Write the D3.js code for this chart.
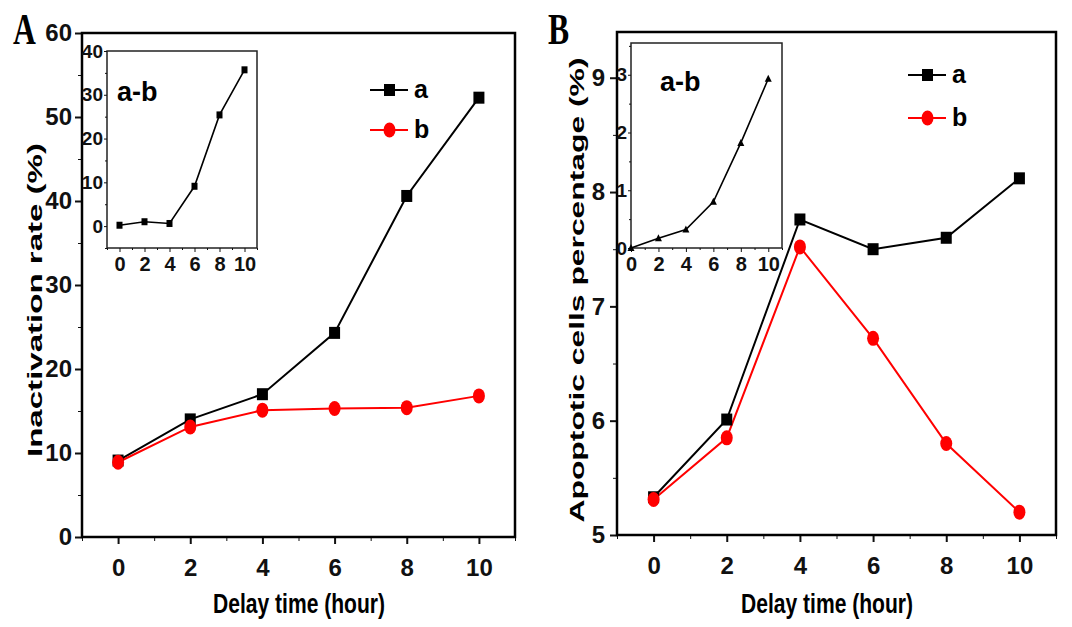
<!DOCTYPE html>
<html>
<head>
<meta charset="utf-8">
<script src="https://cdn.jsdelivr.net/npm/d3@7/dist/d3.min.js"></script>
<style>
  body { margin: 0; background: #fff; }
  svg { display: block; }
  .narrow { font-family: "Liberation Sans Narrow", "Arial Narrow", "Liberation Sans", sans-serif; font-weight: bold; }
  .tick text { font-family: "Liberation Sans Narrow", "Arial Narrow", "Liberation Sans", sans-serif; font-weight: bold; fill: #111; }
  .tick line { stroke: #111; }
</style>
</head>
<body>
<svg id="chart" width="1072" height="627"></svg>
<script>
// delay times (hour)
const hours = [0, 2, 4, 6, 8, 10];
const xTicks = [0, 2, 4, 6, 8, 10];
const xMinor = [-1, 1, 3, 5, 7, 9, 11];

// panel A: inactivation rate (%)
const inactA = [9.1, 14.0, 17.0, 24.3, 40.6, 52.3];
const inactB = [8.9, 13.1, 15.1, 15.3, 15.4, 16.8];
const inactDiff = [0.2, 1.0, 0.6, 9.1, 25.4, 35.7];
const yTicksA = [0, 10, 20, 30, 40, 50, 60];
const yMinorA = [5, 15, 25, 35, 45, 55];
const insetTicksA = [0, 10, 20, 30, 40];
const insetMinorA = [-5, 5, 15, 25, 35];

// panel B: apoptotic cells percentage (%)
const apopA = [5.33, 6.01, 7.76, 7.50, 7.60, 8.12];
const apopB = [5.31, 5.85, 7.52, 6.72, 5.80, 5.20];
const apopDiff = [0, 0.17, 0.32, 0.80, 1.82, 2.93];
const yTicksB = [5, 6, 7, 8, 9];
const yMinorB = [5.5, 6.5, 7.5, 8.5];
const insetTicksB = [0, 1, 2, 3];
const insetMinorB = [0.5, 1.5, 2.5, 3.5];
const insetXMinorB = [1, 3, 5, 7, 9, 11];

const svg = d3.select("#chart");
const fmt = d3.format("d");

function pairs(vals) { return hours.map((h, i) => [h, vals[i]]); }

function drawPanel(p) {
  let g = svg.append("g");
  let x = d3.scaleLinear().domain(p.xDom).range([p.left, p.right]);
  let y = d3.scaleLinear().domain(p.yDom).range([p.bottom, p.top]);

  // minor ticks first
  g.append("g").attr("transform", "translate(0," + p.bottom + ")")
    .call(d3.axisBottom(x).tickValues(xMinor).tickSize(4).tickFormat(""))
    .call(a => a.select(".domain").remove());
  g.append("g").attr("transform", "translate(" + p.left + ",0)")
    .call(d3.axisLeft(y).tickValues(p.yMinor).tickSize(4).tickFormat(""))
    .call(a => a.select(".domain").remove());

  let xa = g.append("g").attr("transform", "translate(0," + p.bottom + ")")
    .call(d3.axisBottom(x).tickValues(xTicks).tickSize(7).tickPadding(15).tickFormat(fmt))
    .call(a => a.select(".domain").remove());
  xa.selectAll("text").style("font-size", "24px");
  xa.selectAll("line").attr("stroke-width", 2);

  let ya = g.append("g").attr("transform", "translate(" + p.left + ",0)")
    .call(d3.axisLeft(y).tickValues(p.yTicks).tickSize(7).tickPadding(p.yPad).tickFormat(fmt))
    .call(a => a.select(".domain").remove());
  ya.selectAll("text").style("font-size", "24px");
  ya.selectAll("line").attr("stroke-width", 2);

  // frame
  g.append("rect")
    .attr("x", p.left).attr("y", p.top)
    .attr("width", p.right - p.left).attr("height", p.bottom - p.top)
    .attr("fill", "none").attr("stroke", "#000").attr("stroke-width", 2.5);

  let line = d3.line().x(d => x(d[0])).y(d => y(d[1]));

  // series a (black squares) and b (red circles)
  g.append("path").datum(pairs(p.a)).attr("d", line)
    .attr("fill", "none").attr("stroke", "#000").attr("stroke-width", 2);
  g.append("path").datum(pairs(p.b)).attr("d", line)
    .attr("fill", "none").attr("stroke", "#ff0000").attr("stroke-width", 2);
  g.selectAll(".sq").data(pairs(p.a)).join("rect").attr("class", "sq")
    .attr("x", d => x(d[0]) - 5.5).attr("y", d => y(d[1]) - 6)
    .attr("width", 11).attr("height", 12).attr("fill", "#000");
  g.selectAll(".ci").data(pairs(p.b)).join("ellipse").attr("class", "ci")
    .attr("cx", d => x(d[0])).attr("cy", d => y(d[1]))
    .attr("rx", 6).attr("ry", 7.5).attr("fill", "#ff0000");

  // legend
  let lg = p.legend;
  g.append("line").attr("x1", lg.x).attr("x2", lg.x + 38).attr("y1", lg.y).attr("y2", lg.y)
    .attr("stroke", "#000").attr("stroke-width", 2);
  g.append("rect").attr("x", lg.x + 14).attr("y", lg.y - 6).attr("width", 11).attr("height", 12).attr("fill", "#000");
  g.append("text").attr("class", "narrow").attr("x", lg.x + 44).attr("y", lg.y + 8)
    .style("font-size", "25px").text("a");
  g.append("line").attr("x1", lg.x).attr("x2", lg.x + 38).attr("y1", lg.y + lg.gap).attr("y2", lg.y + lg.gap)
    .attr("stroke", "#ff0000").attr("stroke-width", 2);
  g.append("ellipse").attr("cx", lg.x + 19.5).attr("cy", lg.y + lg.gap).attr("rx", 6).attr("ry", 7.5).attr("fill", "#ff0000");
  g.append("text").attr("class", "narrow").attr("x", lg.x + 44).attr("y", lg.y + lg.gap + 8)
    .style("font-size", "25px").text("b");

  // axis titles
  g.append("text").attr("class", "narrow")
    .attr("x", p.xTitle[0]).attr("y", p.xTitle[1])
    .attr("text-anchor", "middle")
    .attr("textLength", 172).attr("lengthAdjust", "spacingAndGlyphs")
    .style("font-size", "28px").text("Delay time (hour)");
  g.append("text")
    .attr("transform", "translate(" + p.yTitle[0] + "," + p.yTitle[1] + ") rotate(-90)")
    .attr("text-anchor", "middle")
    .attr("textLength", p.yTitle[2]).attr("lengthAdjust", "spacingAndGlyphs")
    .style("font-family", "'Liberation Sans', Arial, sans-serif").style("font-weight", "bold")
    .style("font-size", "21px").text(p.yLabel);

  // panel letter
  g.append("text")
    .attr("transform", "translate(" + p.letter[0] + "," + p.letter[1] + ") scale(0.72,1)")
    .style("font-family", "'Liberation Serif', 'Times New Roman', serif").style("font-weight", "bold")
    .style("font-size", "44px").text(p.name);

  // inset a-b
  let q = p.inset;
  let ix = d3.scaleLinear().domain(q.xDom).range([q.left, q.right]);
  let iy = d3.scaleLinear().domain(q.yDom).range([q.bottom, q.top]);
  g.append("rect")
    .attr("x", q.left).attr("y", q.top)
    .attr("width", q.right - q.left).attr("height", q.bottom - q.top)
    .attr("fill", "#fff").attr("stroke", "#222").attr("stroke-width", 1.5);
  g.append("g").attr("transform", "translate(0," + q.bottom + ")")
    .call(d3.axisBottom(ix).tickValues(q.xMinor).tickSize(2).tickFormat(""))
    .call(a => a.select(".domain").remove());
  g.append("g").attr("transform", "translate(" + q.left + ",0)")
    .call(d3.axisLeft(iy).tickValues(q.yMinor).tickSize(2).tickFormat(""))
    .call(a => a.select(".domain").remove());
  let ixa = g.append("g").attr("transform", "translate(0," + q.bottom + ")")
    .call(d3.axisBottom(ix).tickValues(xTicks).tickSize(4).tickPadding(5).tickFormat(fmt))
    .call(a => a.select(".domain").remove());
  ixa.selectAll("text").style("font-size", "20px");
  let iya = g.append("g").attr("transform", "translate(" + q.left + ",0)")
    .call(d3.axisLeft(iy).tickValues(q.yTicks).tickSize(3).tickPadding(1).tickFormat(fmt))
    .call(a => a.select(".domain").remove());
  iya.selectAll("text").style("font-size", "19px");

  g.append("path").datum(pairs(q.vals))
    .attr("d", d3.line().x(d => ix(d[0])).y(d => iy(d[1])))
    .attr("fill", "none").attr("stroke", "#000").attr("stroke-width", 1.6);
  if (q.marker === "square") {
    g.selectAll(".isq").data(pairs(q.vals)).join("rect").attr("class", "isq")
      .attr("x", d => ix(d[0]) - 3).attr("y", d => iy(d[1]) - 3.5)
      .attr("width", 6).attr("height", 7).attr("fill", "#000");
  } else {
    g.selectAll(".itr").data(pairs(q.vals)).join("path").attr("class", "itr")
      .attr("transform", d => "translate(" + ix(d[0]) + "," + iy(d[1]) + ")")
      .attr("d", "M0,-4L3.5,3L-3.5,3Z").attr("fill", "#000");
  }
  g.append("text").attr("class", "narrow").attr("x", q.label[0]).attr("y", q.label[1])
    .style("font-size", "27px").text("a-b");
}

drawPanel({
  name: "A", letter: [13, 44],
  left: 82, right: 515, top: 33, bottom: 537,
  xDom: [-1, 11], yDom: [0, 60],
  yTicks: yTicksA, yMinor: yMinorA, yPad: 3,
  a: inactA, b: inactB,
  legend: { x: 370, y: 90, gap: 40 },
  xTitle: [299, 613],
  yTitle: [42, 300, 314], yLabel: "Inactivation rate (%)",
  inset: {
    left: 107, right: 257, top: 51, bottom: 248,
    xDom: [-1, 11], yDom: [-5, 40],
    yTicks: insetTicksA, yMinor: insetMinorA, xMinor: xMinor,
    vals: inactDiff, marker: "square", label: [117, 101]
  }
});

drawPanel({
  name: "B", letter: [548, 44],
  left: 617, right: 1056, top: 32, bottom: 535,
  xDom: [-1, 11], yDom: [5, 9.4],
  yTicks: yTicksB, yMinor: yMinorB, yPad: 5,
  a: apopA, b: apopB,
  legend: { x: 908, y: 75, gap: 43 },
  xTitle: [827, 613],
  yTitle: [584, 290, 465], yLabel: "Apoptotic cells percentage (%)",
  inset: {
    left: 631, right: 782, top: 43, bottom: 248,
    xDom: [0, 11], yDom: [0, 3.55],
    yTicks: insetTicksB, yMinor: insetMinorB, xMinor: insetXMinorB,
    vals: apopDiff, marker: "triangle", label: [660, 91]
  }
});
</script>
</body>
</html>
